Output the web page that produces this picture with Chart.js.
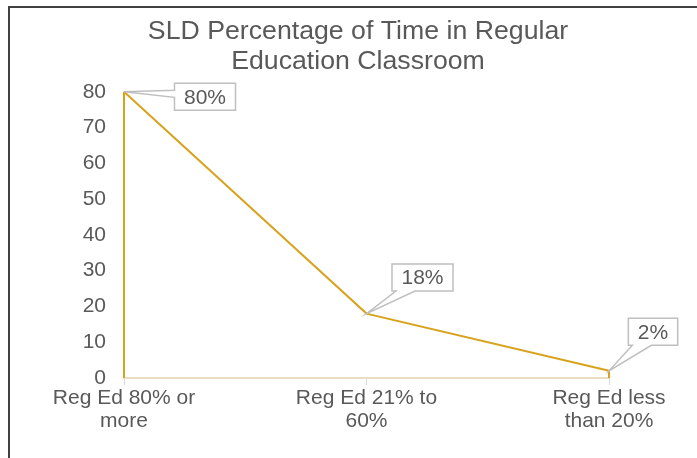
<!DOCTYPE html>
<html>
<head>
<meta charset="utf-8">
<script src="https://cdn.jsdelivr.net/npm/chart.js@4"></script>
<style>
  html, body { margin: 0; padding: 0; background: #fff; }
  #wrap { position: relative; width: 697px; height: 458px; }
  #frame { position: absolute; left: 8px; top: 6px; right: -10px; bottom: -10px;
           border-left: 2px solid #404040; border-top: 2px solid #404040; pointer-events: none; }
</style>
</head>
<body>
<div id="wrap">
  <canvas id="chart" width="697" height="458"></canvas>
  <div id="frame"></div>
</div>
<script>
const titleLines = ['SLD Percentage of Time in Regular', 'Education Classroom'];
const categories = [['Reg Ed 80% or', 'more'], ['Reg Ed 21% to', '60%'], ['Reg Ed less', 'than 20%']];
const values = [80, 18, 2];
const valueLabels = ['80%', '18%', '2%'];
const yMin = 0, yMax = 80, yStep = 10;

const FONT = "'Liberation Sans', Arial, sans-serif";
const TEXT = '#595959';
const GOLD = '#d8a21c';

// offset of each callout box centre from its point
const calloutOffsets = [[81, 5], [56, -36], [44, -39]];

// title is centred on the whole frame, not just the padded area
const titleShift = {
  id: 'titleShift',
  afterLayout(chart) {
    chart.titleBlock.left = 0;
    chart.titleBlock.right = chart.width + 19;
  }
};

// area outline: verticals from first/last point down to zero
const areaEdges = {
  id: 'areaEdges',
  afterDatasetsDraw(chart) {
    const pts = chart.getDatasetMeta(0).data;
    const y0 = chart.scales.y.getPixelForValue(0);
    const ctx = chart.ctx;
    ctx.save();
    ctx.strokeStyle = GOLD;
    ctx.lineWidth = 2;
    [pts[0], pts[pts.length - 1]].forEach(p => {
      ctx.beginPath();
      ctx.moveTo(p.x, p.y);
      ctx.lineTo(p.x, y0);
      ctx.stroke();
    });
    ctx.restore();
  }
};

const callouts = {
  id: 'callouts',
  afterDatasetsDraw(chart) {
    const pts = chart.getDatasetMeta(0).data;
    const ctx = chart.ctx;
    ctx.save();
    ctx.font = '21px ' + FONT;
    pts.forEach((p, i) => {
      const txt = valueLabels[i];
      const w = ctx.measureText(txt).width + 19;
      const h = 27;
      const cx = p.x + calloutOffsets[i][0];
      const cy = p.y + calloutOffsets[i][1];
      const l = cx - w / 2, r = cx + w / 2, t = cy - h / 2, b = cy + h / 2;
      ctx.beginPath();
      if (p.y > b) {
        ctx.moveTo(l, t); ctx.lineTo(r, t); ctx.lineTo(r, b);
        ctx.lineTo(l + 23, b); ctx.lineTo(p.x, p.y); ctx.lineTo(l + 4, b);
        ctx.lineTo(l, b);
      } else {
        ctx.moveTo(l, t); ctx.lineTo(r, t); ctx.lineTo(r, b); ctx.lineTo(l, b);
        ctx.lineTo(l, t + 14); ctx.lineTo(p.x, p.y); ctx.lineTo(l, t + 7);
      }
      ctx.closePath();
      ctx.fillStyle = '#fff';
      ctx.fill();
      ctx.strokeStyle = '#bfbfbf';
      ctx.lineWidth = 1.5;
      ctx.stroke();
      ctx.fillStyle = TEXT;
      ctx.textAlign = 'center';
      ctx.textBaseline = 'middle';
      ctx.fillText(txt, cx, cy + 1);
    });
    ctx.restore();
  }
};

new Chart(document.getElementById('chart'), {
  type: 'line',
  data: {
    labels: categories,
    datasets: [{
      data: values,
      borderColor: GOLD,
      borderWidth: 2,
      pointRadius: 0,
      tension: 0,
      fill: false
    }]
  },
  options: {
    responsive: false,
    animation: false,
    layout: { padding: { top: 17, left: 0, right: 88, bottom: 0 } },
    plugins: {
      legend: { display: false },
      tooltip: { enabled: false },
      title: {
        display: true,
        text: titleLines,
        color: TEXT,
        font: { family: FONT, size: 26.7, weight: 'normal', lineHeight: 1.12 },
        padding: { top: 0, bottom: 15 }
      }
    },
    scales: {
      x: {
        offset: false,
        grid: { display: true, drawOnChartArea: false, drawTicks: true, tickLength: 7, color: '#d9d9d9' },
        border: { display: true, color: '#e8dfc2', width: 2 },
        ticks: { color: TEXT, font: { family: FONT, size: 21, lineHeight: 1.1 }, padding: 2, maxRotation: 0, autoSkip: false },
        afterFit(scale) { scale.height = 80; }
      },
      y: {
        min: yMin,
        max: yMax,
        grid: { display: false },
        border: { display: false },
        ticks: { stepSize: yStep, color: TEXT, font: { family: FONT, size: 21 }, padding: 10 },
        afterFit(scale) { scale.width = 124; }
      }
    }
  },
  plugins: [titleShift, areaEdges, callouts]
});
</script>
</body>
</html>
